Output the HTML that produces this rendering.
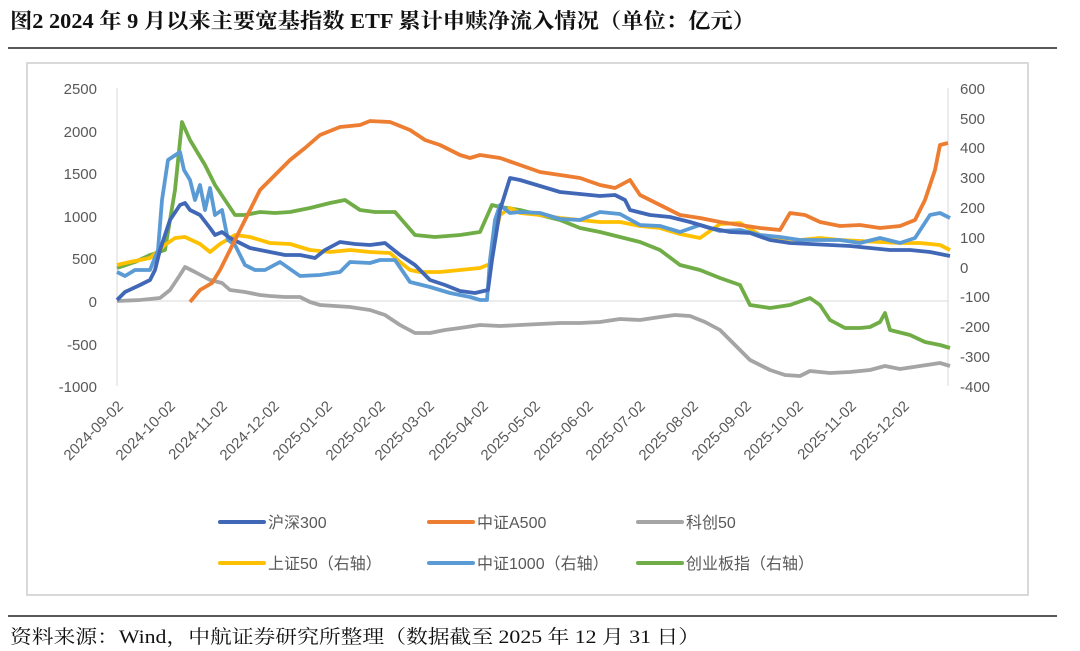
<!DOCTYPE html>
<html><head><meta charset="utf-8"><style>
html,body{margin:0;padding:0;background:#fff;}
body{width:1080px;height:651px;overflow:hidden;position:relative;font-family:"Liberation Serif","Noto Serif CJK SC",serif;}
</style></head><body>
<svg width="1080" height="651" xmlns="http://www.w3.org/2000/svg" style="position:absolute;left:0;top:0">
<text x="10" y="28" font-size="21" font-weight="bold" fill="#111" textLength="745" lengthAdjust="spacingAndGlyphs" font-family="Liberation Serif, Noto Serif CJK SC, serif">图2  2024 年 9 月以来主要宽基指数 ETF 累计申赎净流入情况（单位：亿元）</text>
<line x1="8" y1="48" x2="1057" y2="48" stroke="#222" stroke-width="1.5"/>
<rect x="27" y="63" width="1001" height="532" fill="#fff" stroke="#d9d9d9" stroke-width="2"/>
<g font-family="Liberation Sans, sans-serif" font-size="15" fill="#595959">
<g text-anchor="end">
<text x="97" y="94">2500</text><text x="97" y="137">2000</text><text x="97" y="179">1500</text><text x="97" y="222">1000</text><text x="97" y="264">500</text><text x="97" y="307">0</text><text x="97" y="350">-500</text><text x="97" y="392">-1000</text>
</g>
<g text-anchor="start">
<text x="960" y="94">600</text><text x="960" y="124">500</text><text x="960" y="153">400</text><text x="960" y="183">300</text><text x="960" y="213">200</text><text x="960" y="243">100</text><text x="960" y="273">0</text><text x="960" y="302">-100</text><text x="960" y="332">-200</text><text x="960" y="362">-300</text><text x="960" y="392">-400</text>
</g>
<g text-anchor="end">
<text transform="translate(124,407) rotate(-45)">2024-09-02</text>
<text transform="translate(176,407) rotate(-45)">2024-10-02</text>
<text transform="translate(228,407) rotate(-45)">2024-11-02</text>
<text transform="translate(280,407) rotate(-45)">2024-12-02</text>
<text transform="translate(333,407) rotate(-45)">2025-01-02</text>
<text transform="translate(386,407) rotate(-45)">2025-02-02</text>
<text transform="translate(435,407) rotate(-45)">2025-03-02</text>
<text transform="translate(489,407) rotate(-45)">2025-04-02</text>
<text transform="translate(541,407) rotate(-45)">2025-05-02</text>
<text transform="translate(594,407) rotate(-45)">2025-06-02</text>
<text transform="translate(646,407) rotate(-45)">2025-07-02</text>
<text transform="translate(699,407) rotate(-45)">2025-08-02</text>
<text transform="translate(752,407) rotate(-45)">2025-09-02</text>
<text transform="translate(804,407) rotate(-45)">2025-10-02</text>
<text transform="translate(857,407) rotate(-45)">2025-11-02</text>
<text transform="translate(910,407) rotate(-45)">2025-12-02</text>
</g>
</g>
<line x1="117" y1="88" x2="117" y2="386" stroke="#d9d9d9" stroke-width="1"/>
<line x1="948" y1="88" x2="948" y2="386" stroke="#d9d9d9" stroke-width="1"/>
<line x1="117" y1="301" x2="948" y2="301" stroke="#d9d9d9" stroke-width="1"/>
<g fill="none" stroke-width="3.8" stroke-linejoin="round">
<polyline stroke="#A5A5A5" points="117,301 140,300 160,298 170,290 180,275 185,267 195,272 210,280 222,283 230,290 245,292 260,295 270,296 285,297 300,297 310,302 320,305 335,306 350,307 370,310 385,315 400,325 415,333 430,333 445,330 460,328 480,325 500,326 520,325 540,324 560,323 580,323 600,322 620,319 640,320 660,317 675,315 690,316 705,322 720,330 735,345 750,360 770,370 785,375 800,376 810,371 830,373 850,372 870,370 885,366 900,369 920,366 940,363 950,366"/>
<polyline stroke="#70AD47" points="117,268 135,262 150,255 165,250 175,190 182,122 190,140 205,165 215,185 225,200 235,215 245,215 260,212 275,213 290,212 310,208 330,203 345,200 360,210 375,212 395,212 415,235 435,237 460,235 480,232 492,205 500,207 520,210 540,215 560,220 580,228 600,232 620,237 640,242 660,250 680,265 700,270 720,278 740,285 750,305 770,308 790,305 810,298 820,305 830,320 845,328 860,328 870,327 880,322 885,313 890,330 910,335 925,342 940,345 950,348"/>
<polyline stroke="#FFC000" points="117,265 130,262 150,258 165,245 175,238 185,237 200,244 210,252 220,244 235,235 250,237 270,243 290,244 310,250 330,252 350,250 370,252 390,253 400,262 410,270 420,272 440,272 460,270 480,268 490,264 495,235 500,215 510,208 520,213 540,215 560,218 580,220 600,222 620,222 640,226 660,228 680,234 700,238 720,224 740,223 760,235 780,238 800,240 820,238 840,240 860,241 880,242 900,243 920,243 940,245 950,250"/>
<polyline stroke="#5B9BD5" points="117,272 125,276 135,270 150,270 158,250 162,200 168,160 180,152 184,170 190,180 195,200 200,185 205,210 210,188 215,215 222,210 228,240 235,245 245,265 255,270 265,270 280,262 300,276 320,275 340,272 350,262 370,263 380,260 395,260 410,282 430,287 450,293 470,297 480,300 487,300 490,260 495,220 500,205 510,213 520,212 540,213 560,219 580,220 600,212 620,214 640,225 660,226 680,232 700,225 720,231 740,230 760,235 780,237 800,240 820,240 840,240 860,243 880,238 900,243 915,238 930,215 940,213 950,218"/>
<polyline stroke="#4168B7" points="117,300 125,292 140,285 150,280 155,270 160,250 170,220 180,205 185,203 190,210 200,215 210,228 215,235 222,232 230,238 240,243 250,248 260,250 270,252 285,255 300,255 315,258 325,250 340,242 355,244 370,245 385,243 400,255 415,265 430,280 445,285 460,291 475,293 488,290 492,260 500,210 510,178 520,180 540,186 560,192 580,194 600,196 615,195 625,200 630,210 650,215 670,217 690,222 710,228 730,232 750,233 770,240 790,243 810,244 830,245 850,246 870,248 890,250 910,250 930,252 950,256"/>
<polyline stroke="#ED7D31" points="190,302 200,290 212,283 220,270 230,250 240,230 250,210 260,190 275,175 290,160 305,148 320,135 340,127 360,125 370,121 390,122 410,130 425,140 440,145 460,155 470,158 480,155 500,158 520,165 540,172 560,175 580,178 600,185 615,188 630,180 640,195 660,205 680,215 700,218 720,222 740,225 760,228 780,230 790,213 805,215 820,222 840,226 860,225 880,228 900,226 915,220 925,200 935,170 940,145 948,143"/>
</g>
<g stroke-width="4" stroke-linecap="round">
<line x1="220" y1="522" x2="264" y2="522" stroke="#4168B7"/>
<line x1="429" y1="522" x2="473" y2="522" stroke="#ED7D31"/>
<line x1="638" y1="522" x2="682" y2="522" stroke="#A5A5A5"/>
<line x1="220" y1="563" x2="264" y2="563" stroke="#FFC000"/>
<line x1="429" y1="563" x2="473" y2="563" stroke="#5B9BD5"/>
<line x1="638" y1="563" x2="682" y2="563" stroke="#70AD47"/>
</g>
<g font-family="Liberation Sans, Noto Sans CJK SC, sans-serif" font-size="16" fill="#595959">
<text x="268" y="528">沪深300</text><text x="477" y="528">中证A500</text><text x="686" y="528">科创50</text>
<text x="268" y="569">上证50（右轴）</text><text x="477" y="569">中证1000（右轴）</text><text x="686" y="569">创业板指（右轴）</text>
</g>
<line x1="8" y1="616" x2="1057" y2="616" stroke="#222" stroke-width="1.5"/>
<text x="10" y="643" font-size="19" fill="#111" textLength="690" lengthAdjust="spacingAndGlyphs" font-family="Liberation Serif, Noto Serif CJK SC, serif">资料来源：Wind，中航证券研究所整理（数据截至 2025 年 12 月 31 日）</text>
</svg>
</body></html>
